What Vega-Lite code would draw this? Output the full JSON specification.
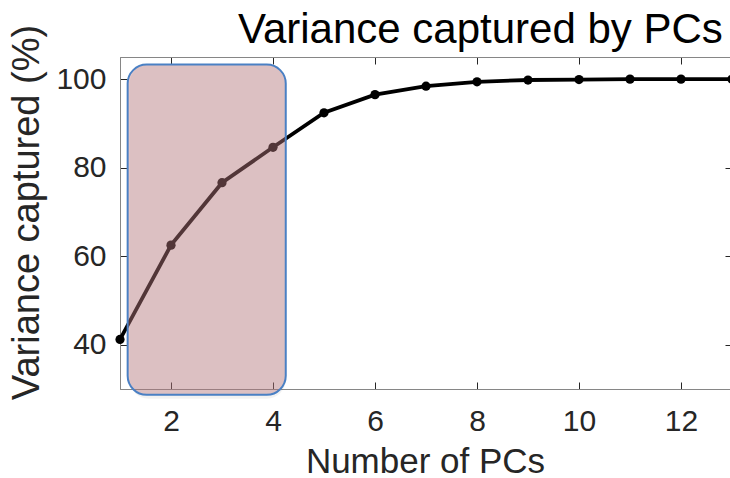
{
  "$schema": "https://vega.github.io/schema/vega-lite/v6.json",
  "width": 612,
  "height": 332,
  "autosize": "none",
  "padding": {"left": 120, "top": 57, "right": 0, "bottom": 89},
  "background": "white",
  "config": {
    "font": "Liberation Sans",
    "view": {"stroke": "#868686", "strokeWidth": 1},
    "axis": {
      "grid": false,
      "domainColor": "#868686",
      "domainWidth": 1,
      "tickColor": "#262626",
      "tickSize": -7,
      "tickWidth": 1,
      "labelColor": "#262626",
      "labelFont": "Liberation Sans",
      "labelFontSize": 30,
      "titleFont": "Liberation Sans",
      "titleFontSize": 35,
      "titleFontWeight": "normal",
      "titleColor": "#262626"
    }
  },
  "title": {
    "text": "Variance captured by PCs",
    "anchor": "start",
    "frame": "group",
    "dx": 118,
    "fontSize": 42,
    "fontWeight": "normal",
    "color": "#000000",
    "font": "Liberation Sans",
    "baseline": "alphabetic",
    "offset": -61
  },
  "datasets": {
    "pcs": [
      {"pc": 1, "var": 41.2},
      {"pc": 2, "var": 62.5},
      {"pc": 3, "var": 76.6},
      {"pc": 4, "var": 84.6},
      {"pc": 5, "var": 92.4},
      {"pc": 6, "var": 96.5},
      {"pc": 7, "var": 98.4},
      {"pc": 8, "var": 99.4},
      {"pc": 9, "var": 99.8},
      {"pc": 10, "var": 99.9},
      {"pc": 11, "var": 100},
      {"pc": 12, "var": 100},
      {"pc": 13, "var": 100}
    ]
  },
  "layer": [
    {
      "data": {"name": "pcs"},
      "mark": {"type": "line", "color": "#000000", "strokeWidth": 3.8, "clip": true},
      "encoding": {
        "x": {
          "field": "pc", "type": "quantitative",
          "scale": {"domain": [1, 13], "nice": false, "zero": false},
          "axis": {"orient": "bottom", "values": [2, 4, 6, 8, 10, 12], "title": "Number of PCs", "titleX": 305, "titleY": 83, "titleBaseline": "alphabetic", "titleAlign": "center", "labelPadding": 24}
        },
        "y": {
          "field": "var", "type": "quantitative",
          "scale": {"domain": [30, 105], "nice": false, "zero": false},
          "axis": {"orient": "left", "values": [40, 60, 80, 100], "title": "Variance captured (%)", "titleFontSize": 38, "titleX": -93, "titleY": 155, "titleBaseline": "middle", "titleAlign": "center", "labelPadding": 21}
        }
      }
    },
    {
      "data": {"name": "pcs"},
      "mark": {"type": "point", "filled": true, "color": "#000000", "size": 85, "opacity": 1, "strokeWidth": 0},
      "encoding": {
        "x": {
          "field": "pc", "type": "quantitative",
          "scale": {"domain": [1, 13], "nice": false, "zero": false},
          "axis": {"orient": "top", "values": [2, 4, 6, 8, 10, 12], "labels": false, "title": null}
        },
        "y": {
          "field": "var", "type": "quantitative",
          "scale": {"domain": [30, 105], "nice": false, "zero": false},
          "axis": {"orient": "right", "values": [40, 60, 80, 100], "labels": false, "title": null}
        }
      }
    },
    {
      "data": {"values": [{"x1": 1.15, "x2": 4.25, "y1": 28.7, "y2": 103.3}]},
      "mark": {"type": "rect", "fill": "#000000", "fillOpacity": 0.05, "xOffset": 2, "yOffset": 4, "cornerRadius": 19, "clip": false},
      "encoding": {
        "x": {"field": "x1", "type": "quantitative", "scale": {"domain": [1, 13], "nice": false, "zero": false}, "axis": null},
        "x2": {"field": "x2"},
        "y": {"field": "y1", "type": "quantitative", "scale": {"domain": [30, 105], "nice": false, "zero": false}, "axis": null},
        "y2": {"field": "y2"}
      }
    },
    {
      "data": {"values": [{"x1": 1.15, "x2": 4.25, "y1": 28.7, "y2": 103.3}]},
      "mark": {"type": "rect", "fill": "#be7d82", "fillOpacity": 0.43, "stroke": "#4a80c4", "strokeWidth": 2, "cornerRadius": 19, "clip": false},
      "encoding": {
        "x": {"field": "x1", "type": "quantitative", "scale": {"domain": [1, 13], "nice": false, "zero": false}, "axis": null},
        "x2": {"field": "x2"},
        "y": {"field": "y1", "type": "quantitative", "scale": {"domain": [30, 105], "nice": false, "zero": false}, "axis": null},
        "y2": {"field": "y2"}
      }
    }
  ],
  "resolve": {"axis": {"x": "independent", "y": "independent"}}
}
